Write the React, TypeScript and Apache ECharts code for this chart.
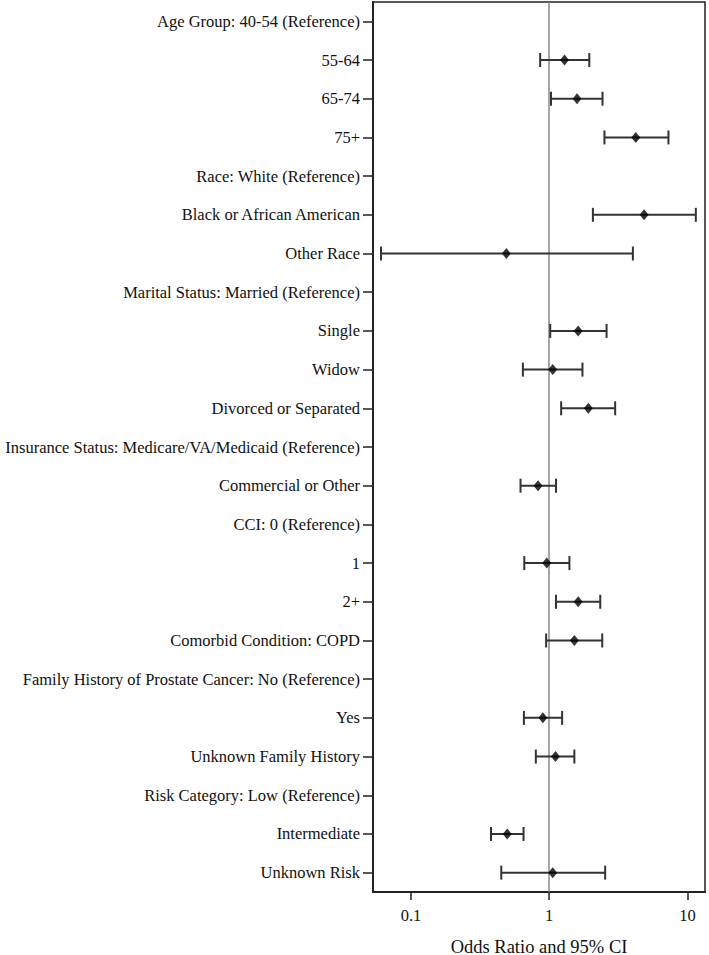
import React, { useEffect, useRef } from "react";
import * as echarts from "echarts";

const categories: string[] = [
  "Age Group: 40-54 (Reference)",
  "55-64",
  "65-74",
  "75+",
  "Race: White (Reference)",
  "Black or African American",
  "Other Race",
  "Marital Status: Married (Reference)",
  "Single",
  "Widow",
  "Divorced or Separated",
  "Insurance Status: Medicare/VA/Medicaid (Reference)",
  "Commercial or Other",
  "CCI: 0 (Reference)",
  "1",
  "2+",
  "Comorbid Condition: COPD",
  "Family History of Prostate Cancer: No (Reference)",
  "Yes",
  "Unknown Family History",
  "Risk Category: Low (Reference)",
  "Intermediate",
  "Unknown Risk",
];

// null = reference category (no estimate)
const oddsRatio: (number | null)[] = [
  null, 1.29, 1.59, 4.23, null, 4.86, 0.49, null, 1.62, 1.06, 1.92, null,
  0.83, null, 0.96, 1.62, 1.52, null, 0.9, 1.11, null, 0.497, 1.06,
];
const lowerCI: (number | null)[] = [
  null, 0.86, 1.03, 2.51, null, 2.07, 0.0607, null, 1.017, 0.645, 1.22, null,
  0.62, null, 0.66, 1.12, 0.95, null, 0.656, 0.8, null, 0.379, 0.45,
];
const upperCI: (number | null)[] = [
  null, 1.95, 2.43, 7.29, null, 11.5, 4.03, null, 2.6, 1.74, 3.0, null,
  1.12, null, 1.4, 2.34, 2.42, null, 1.24, 1.52, null, 0.652, 2.54,
];
const xTicks: number[] = [0.1, 1, 10];
const xName = "Odds Ratio and 95% CI";

const FONT = "'Liberation Serif', 'Times New Roman', serif";

export default function App() {
  const ref = useRef<HTMLDivElement>(null);
  useEffect(() => {
    document.body.style.margin = "0";
    if (!ref.current) return;
    const chart = echarts.init(ref.current, null, { renderer: "svg" });
    const pointData: [number, number][] = [];
    const ciData: [number, number, number][] = [];
    categories.forEach((_, i) => {
      const o = oddsRatio[i];
      const l = lowerCI[i];
      const u = upperCI[i];
      if (o != null) pointData.push([o, i]);
      if (l != null && u != null) ciData.push([i, l, u]);
    });
    chart.setOption({
      animation: false,
      grid: {
        left: 373,
        right: 4,
        top: 2,
        bottom: 63,
        show: true,
        borderColor: "#222",
        borderWidth: 1.5,
        containLabel: false,
        outerBoundsMode: "none",
      },
      xAxis: {
        type: "log",
        logBase: 10,
        min: 0.0531,
        max: 13.4,
        name: xName,
        nameLocation: "middle",
        nameGap: 45,
        nameTextStyle: { fontFamily: FONT, fontSize: 18.5, color: "#111" },
        axisLine: { show: true, lineStyle: { color: "#222", width: 2 } },
        axisTick: {
          show: true,
          length: 8,
          customValues: xTicks,
          lineStyle: { color: "#222", width: 1.5 },
        },
        axisLabel: {
          customValues: xTicks,
          fontFamily: FONT,
          fontSize: 16.5,
          color: "#111",
          margin: 15,
          formatter: (v: number) => String(v),
        },
        splitLine: { show: false },
      },
      yAxis: {
        type: "category",
        data: categories,
        inverse: true,
        boundaryGap: true,
        axisLine: { show: true, lineStyle: { color: "#222", width: 2 } },
        axisTick: {
          show: true,
          length: 10,
          alignWithLabel: true,
          lineStyle: { color: "#222", width: 1.5 },
        },
        axisLabel: {
          fontFamily: FONT,
          fontSize: 16.5,
          color: "#111",
          margin: 13,
        },
        splitLine: { show: false },
      },
      series: [
        {
          type: "custom",
          encode: { x: [1, 2], y: 0 },
          data: ciData,
          z: 3,
          renderItem: (params: any, api: any) => {
            const idx = api.value(0);
            const p1 = api.coord([api.value(1), idx]);
            const p2 = api.coord([api.value(2), idx]);
            const h = 7;
            const style = { stroke: "#333", lineWidth: 2 };
            return {
              type: "group",
              children: [
                { type: "line", shape: { x1: p1[0], y1: p1[1], x2: p2[0], y2: p2[1] }, style },
                { type: "line", shape: { x1: p1[0], y1: p1[1] - h, x2: p1[0], y2: p1[1] + h }, style },
                { type: "line", shape: { x1: p2[0], y1: p2[1] - h, x2: p2[0], y2: p2[1] + h }, style },
              ],
            };
          },
        },
        {
          type: "scatter",
          data: pointData,
          symbol: "diamond",
          symbolSize: [9, 11],
          itemStyle: { color: "#000" },
          z: 4,
          markLine: {
            silent: true,
            symbol: ["none", "none"],
            label: { show: false },
            lineStyle: { color: "#888", width: 1.5, type: "solid" },
            data: [{ xAxis: 1 }],
            z: 2,
          },
        },
      ],
    });
    return () => chart.dispose();
  }, []);
  return (
    <div
      ref={ref}
      style={{ width: 709, height: 955, position: "absolute", left: 0, top: 0 }}
    />
  );
}
